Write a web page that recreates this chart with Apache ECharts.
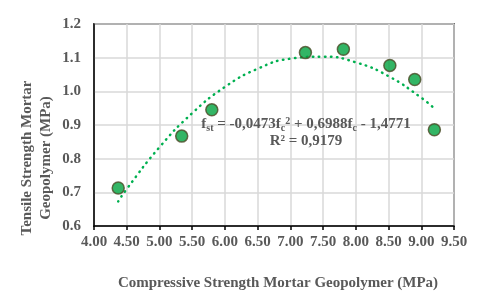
<!DOCTYPE html>
<html>
<head>
<meta charset="utf-8">
<script src="https://cdn.jsdelivr.net/npm/echarts@6/dist/echarts.min.js"></script>
<style>html,body{margin:0;padding:0;background:#fff;}#c{width:480px;height:305px;}</style>
</head>
<body>
<div id="c"></div>
<script>
var compressive = [4.37, 5.34, 5.80, 7.23, 7.81, 8.52, 8.90, 9.20];
var tensile = [0.713, 0.867, 0.945, 1.115, 1.125, 1.077, 1.035, 0.886];
var trendX = [4.37, 4.5, 5.0, 5.5, 6.0, 6.5, 7.0, 7.5, 8.0, 8.5, 9.0, 9.2];
var trendY = [0.673, 0.71, 0.834, 0.935, 1.013, 1.067, 1.097, 1.103, 1.086, 1.045, 0.981, 0.949];
var xTicks = [4.0, 9.5, 0.5];
var yTicks = [0.6, 1.2, 0.1];
var xTitle = 'Compressive Strength Mortar Geopolymer (MPa)';
var yTitle = ['Tensile Strength Mortar', 'Geopolymer (MPa)'];

var txt = '#595959';
var font = '"Liberation Serif", "Times New Roman", serif';
var chart = echarts.init(document.getElementById('c'), null, {renderer: 'canvas'});
chart.setOption({
  animation: false,
  backgroundColor: '#fff',
  grid: {left: 94, right: 26, top: 24, bottom: 79, show: true, borderColor: '#000', borderWidth: 1.5, containLabel: false},
  xAxis: {
    type: 'value', min: xTicks[0], max: xTicks[1], interval: xTicks[2],
    axisLine: {show: true, onZero: false, lineStyle: {color: '#000', width: 1.5}},
    axisTick: {show: true, length: 4, lineStyle: {color: '#000', width: 1.5}},
    axisLabel: {color: txt, fontFamily: font, fontWeight: 'bold', fontSize: 15, margin: 9,
      formatter: function (v) { return v.toFixed(2); }},
    splitLine: {show: true, lineStyle: {color: '#d9d9d9', width: 1.5}},
    name: xTitle, nameLocation: 'middle', nameGap: 50,
    nameTextStyle: {color: txt, fontFamily: font, fontWeight: 'bold', fontSize: 15, padding: [0, 0, 0, 8]}
  },
  yAxis: {
    type: 'value', min: yTicks[0], max: yTicks[1], interval: yTicks[2],
    axisLine: {show: true, onZero: false, lineStyle: {color: '#000', width: 1.5}},
    axisTick: {show: false},
    axisLabel: {color: txt, fontFamily: font, fontWeight: 'bold', fontSize: 15, margin: 13,
      formatter: function (v) { return v.toFixed(1); }},
    splitLine: {show: true, lineStyle: {color: '#d9d9d9', width: 1.5}}
  },
  series: [
    {
      type: 'line', smooth: true, symbol: 'none', z: 2,
      data: trendX.map(function (x, i) { return [x, trendY[i]]; }),
      lineStyle: {color: '#00b050', width: 2.5, type: [0.5, 5.5], cap: 'round'}
    },
    {
      type: 'scatter', symbol: 'circle', symbolSize: 12, z: 3,
      data: compressive.map(function (x, i) { return [x, tensile[i]]; }),
      itemStyle: {color: '#00a33f', borderColor: '#4a4a25', borderWidth: 1.5}
    }
  ],
  graphic: [
    {
      type: 'text', x: 37, y: 158, rotation: Math.PI / 2, z: 10,
      style: {text: yTitle.join('\n'), fill: txt, font: 'bold 15px ' + font, textAlign: 'center', textVerticalAlign: 'middle', lineHeight: 19}
    },
    {
      type: 'text', x: 306, y: 124, z: 10,
      style: {
        text: '{n|f}{s|st}{n| = -0,0473f}{s|c}{p|2}{n| + 0,6988f}{s|c}{n| - 1,4771}',
        textAlign: 'center', textVerticalAlign: 'middle',
        rich: {
          n: {fill: txt, fontFamily: font, fontWeight: 'bold', fontSize: 15, lineHeight: 20, verticalAlign: 'middle'},
          s: {fill: txt, fontFamily: font, fontWeight: 'bold', fontSize: 10, lineHeight: 20, verticalAlign: 'bottom', padding: [0, 0, 1, 0]},
          p: {fill: txt, fontFamily: font, fontWeight: 'bold', fontSize: 10, lineHeight: 20, verticalAlign: 'top', padding: [2, 0, 0, 0]}
        }
      }
    },
    {
      type: 'text', x: 306, y: 141, z: 10,
      style: {text: 'R² = 0,9179', fill: txt, font: 'bold 15px ' + font, textAlign: 'center', textVerticalAlign: 'middle'}
    }
  ]
});
</script>
</body>
</html>
